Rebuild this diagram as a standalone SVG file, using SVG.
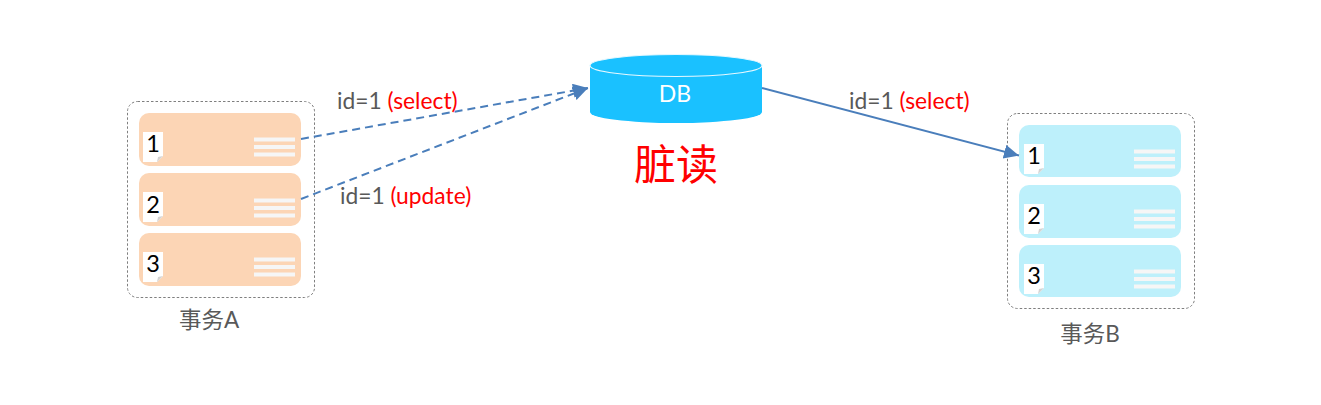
<svg xmlns="http://www.w3.org/2000/svg" width="1321" height="405" viewBox="0 0 1321 405">
<style>
text{font-family:Lato,"Noto Sans CJK SC",sans-serif}
.box{fill:#fff;stroke:#7f7f7f;stroke-width:1;stroke-dasharray:2.5 2}
.a{fill:#fcd5b5}.b{fill:#bdf0fb}
.note{fill:#fff}.fold{fill:#d4d4d4}
.bar{fill:#f6f6f6}
.num{font-size:23.500px;fill:#000;text-anchor:middle}
.cap{font-size:22.500px;fill:#595959;text-anchor:middle}
.lab{font-size:22.800px;fill:#595959}
.red{fill:#f00}
.conn{fill:none;stroke:#4a7ebb;stroke-width:2}
.dash{stroke-dasharray:8 5}
</style>
<defs>
<marker id="arr" markerUnits="userSpaceOnUse" markerWidth="18" markerHeight="16" refX="15" refY="7" orient="auto"><path d="M0 0L15 7L0 14Z" fill="#4a7ebb"/></marker>
<g id="bars"><rect width="41" height="4" class="bar"/><rect y="7.500" width="41" height="4" class="bar"/><rect y="15" width="41" height="4" class="bar"/></g>
<g id="note"><path class="note" d="M0 0H20V24L14 30H0Z"/><path class="fold" d="M14 30L15 25L20 24Z"/></g>
</defs>
<g id="txA">
<rect class="box" x="127.500" y="101.500" width="187" height="196" rx="10"/>
<g id="txA-1"><rect class="a" x="139" y="113" width="162" height="53" rx="10"/><use href="#note" x="143" y="132"/><text class="num" x="153" y="152">1</text><use href="#bars" x="254" y="137.500"/></g>
<g id="txA-2"><rect class="a" x="139" y="173" width="162" height="53" rx="10"/><use href="#note" x="143" y="192"/><text class="num" x="153" y="213">2</text><use href="#bars" x="254" y="198.500"/></g>
<g id="txA-3"><rect class="a" x="139" y="233" width="162" height="53" rx="10"/><use href="#note" x="143" y="252"/><text class="num" x="153" y="272">3</text><use href="#bars" x="254" y="257.500"/></g>
<text class="cap" x="209" y="328">事务A</text>
</g>
<g id="txB">
<rect class="box" x="1007.500" y="113.500" width="187" height="195" rx="10"/>
<g id="txB-1"><rect class="b" x="1019" y="125" width="162" height="52" rx="10"/><use href="#note" x="1024" y="144"/><text class="num" x="1034" y="164">1</text><use href="#bars" x="1134" y="149.500"/></g>
<g id="txB-2"><rect class="b" x="1019" y="185" width="162" height="53" rx="10"/><use href="#note" x="1024" y="204"/><text class="num" x="1034" y="224">2</text><use href="#bars" x="1134" y="209.500"/></g>
<g id="txB-3"><rect class="b" x="1019" y="245" width="162" height="52" rx="10"/><use href="#note" x="1024" y="264"/><text class="num" x="1034" y="284">3</text><use href="#bars" x="1134" y="269.500"/></g>
<text class="cap" x="1090" y="342">事务B</text>
</g>
<g id="db">
<path d="M590 66V112A86 11 0 0 0 762 112V66Z" fill="#1ac1ff"/>
<ellipse cx="676" cy="65.500" rx="86" ry="11" fill="#1ac1ff" stroke="#e6f8ff" stroke-width="1.200"/>
<text x="675" y="102" font-size="23" fill="#fff" text-anchor="middle">DB</text>
</g>
<g id="connectors">
<path class="conn dash" d="M301 139L588 88" marker-end="url(#arr)"/>
<path class="conn dash" d="M301 199L588 88" marker-end="url(#arr)"/>
<path class="conn" d="M762 88L1019 155.500" marker-end="url(#arr)"/>
</g>
<g id="labels">
<text class="lab" x="337" y="109">id=1 <tspan class="red">(select)</tspan></text>
<text class="lab" x="340" y="204">id=1 <tspan class="red">(update)</tspan></text>
<text class="lab" x="849" y="109">id=1 <tspan class="red">(select)</tspan></text>
<text x="676" y="180" font-size="42" fill="#f00" text-anchor="middle">脏读</text>
</g>
</svg>
